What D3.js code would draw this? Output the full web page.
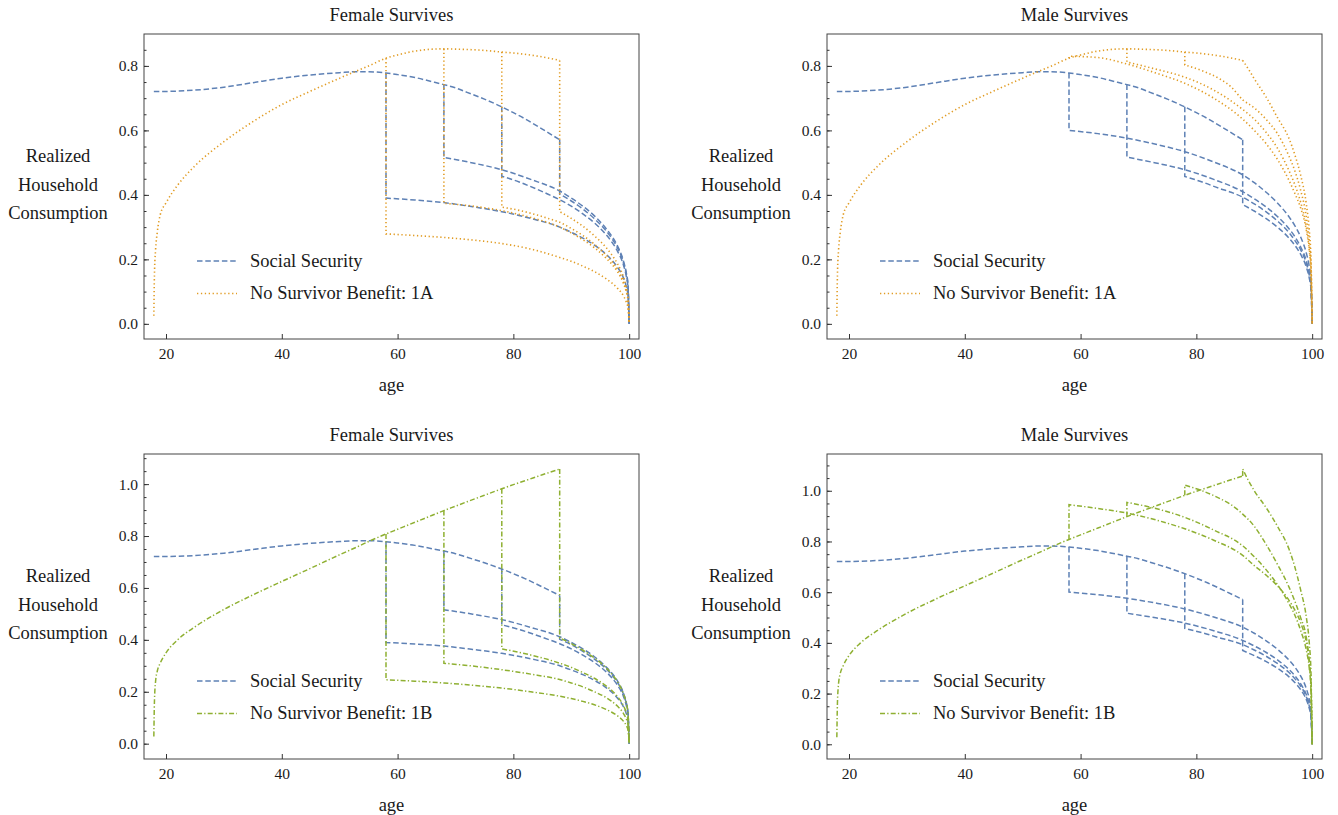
<!DOCTYPE html>
<html>
<head>
<meta charset="utf-8">
<script src="https://cdn.jsdelivr.net/npm/d3@7"></script>
<style>
  body { margin: 0; background: #fff; }
  svg text { font-family: 'Liberation Serif', 'Times New Roman', Times, 'Nimbus Roman', 'DejaVu Serif', serif; fill: #1a1a1a; }
</style>
</head>
<body>
<svg id="chart" width="1338" height="815"></svg>
<script>
// ---------------- DATA ----------------
const deathAges = [58, 68, 78, 88];
const xTickValues = [20, 40, 60, 80, 100];

// Joint (both spouses alive) paths
const jointAges = [17.9, 18, 18.2, 18.5, 19, 20, 22, 25, 30, 35, 40, 45, 50, 53, 55, 58, 60, 63, 66, 68, 70, 72, 75, 78, 80, 82, 85, 88];
const ssJoint = [0.721, 0.721, 0.721, 0.721, 0.721, 0.721, 0.722, 0.725, 0.734, 0.748, 0.762, 0.772, 0.779, 0.782, 0.782, 0.778, 0.773, 0.764, 0.751, 0.742, 0.732, 0.718, 0.697, 0.673, 0.655, 0.636, 0.604, 0.571];
const nsb1AJoint = [0.025, 0.15, 0.23, 0.285, 0.338, 0.375, 0.43, 0.49, 0.565, 0.627, 0.68, 0.722, 0.762, 0.785, 0.8, 0.824, 0.834, 0.846, 0.852, 0.853, 0.852, 0.851, 0.848, 0.843, 0.84, 0.836, 0.828, 0.817];
const nsb1BJoint = [0.028, 0.16, 0.24, 0.28, 0.31, 0.35, 0.40, 0.45, 0.517, 0.573, 0.625, 0.676, 0.728, 0.758, 0.779, 0.808, 0.826, 0.853, 0.880, 0.898, 0.915, 0.932, 0.957, 0.982, 0.998, 1.013, 1.036, 1.058];

// Survivor paths, by age of spouse's death
const ages58 = [58, 63, 68, 73, 78, 83, 88, 90, 92, 94, 96, 97, 98, 99, 99.5, 99.8, 100];
const ages68 = [68, 73, 78, 83, 88, 90, 92, 94, 96, 97, 98, 99, 99.5, 99.8, 100];
const ages78 = [78, 81, 84, 86, 88, 90, 92, 94, 96, 97, 98, 99, 99.5, 99.8, 100];
const ages88 = [88, 89, 90, 92, 94, 96, 97, 98, 99, 99.5, 99.8, 100];

const ssFemale58 = [0.390, 0.384, 0.376, 0.363, 0.348, 0.327, 0.300, 0.284, 0.266, 0.244, 0.216, 0.198, 0.175, 0.143, 0.116, 0.088, 0];
const ssFemale68 = [0.516, 0.499, 0.478, 0.448, 0.412, 0.390, 0.365, 0.335, 0.296, 0.272, 0.241, 0.196, 0.159, 0.121, 0];
const ssFemale78 = [0.458, 0.440, 0.418, 0.402, 0.385, 0.365, 0.341, 0.313, 0.277, 0.254, 0.225, 0.183, 0.148, 0.113, 0];
const ssFemale88 = [0.402, 0.392, 0.381, 0.356, 0.326, 0.289, 0.265, 0.235, 0.191, 0.155, 0.118, 0];

const ssMale58 = [0.600, 0.590, 0.576, 0.557, 0.534, 0.502, 0.462, 0.438, 0.409, 0.375, 0.332, 0.305, 0.270, 0.219, 0.178, 0.135, 0];
const ssMale68 = [0.517, 0.499, 0.478, 0.448, 0.410, 0.388, 0.363, 0.333, 0.295, 0.271, 0.239, 0.195, 0.158, 0.120, 0];
const ssMale78 = [0.457, 0.440, 0.420, 0.408, 0.393, 0.372, 0.348, 0.319, 0.283, 0.259, 0.230, 0.187, 0.151, 0.115, 0];
const ssMale88 = [0.370, 0.360, 0.350, 0.327, 0.300, 0.266, 0.244, 0.216, 0.176, 0.142, 0.108, 0];

const nsb1AFemale58 = [0.279, 0.274, 0.268, 0.260, 0.249, 0.232, 0.206, 0.194, 0.179, 0.162, 0.140, 0.127, 0.110, 0.087, 0.068, 0.049, 0];
const nsb1AFemale68 = [0.374, 0.365, 0.351, 0.330, 0.300, 0.282, 0.261, 0.236, 0.204, 0.185, 0.161, 0.126, 0.099, 0.072, 0];
const nsb1AFemale78 = [0.362, 0.352, 0.338, 0.327, 0.315, 0.296, 0.274, 0.247, 0.214, 0.194, 0.169, 0.132, 0.104, 0.076, 0];
const nsb1AFemale88 = [0.348, 0.338, 0.327, 0.303, 0.273, 0.237, 0.214, 0.186, 0.146, 0.115, 0.084, 0];

const nsb1AMale58 = [0.830, 0.826, 0.806, 0.778, 0.746, 0.700, 0.635, 0.600, 0.560, 0.510, 0.445, 0.405, 0.360, 0.290, 0.228, 0.162, 0];
const nsb1AMale68 = [0.812, 0.790, 0.765, 0.725, 0.665, 0.635, 0.595, 0.545, 0.475, 0.432, 0.378, 0.300, 0.235, 0.165, 0];
const nsb1AMale78 = [0.803, 0.785, 0.760, 0.735, 0.695, 0.670, 0.635, 0.590, 0.520, 0.475, 0.415, 0.330, 0.255, 0.180, 0];
const nsb1AMale88 = [0.817, 0.790, 0.760, 0.705, 0.640, 0.575, 0.525, 0.462, 0.370, 0.290, 0.200, 0];

const nsb1BFemale58 = [0.246, 0.241, 0.234, 0.225, 0.214, 0.200, 0.183, 0.174, 0.163, 0.150, 0.132, 0.121, 0.107, 0.087, 0.070, 0.053, 0];
const nsb1BFemale68 = [0.310, 0.299, 0.285, 0.268, 0.247, 0.234, 0.219, 0.200, 0.178, 0.163, 0.144, 0.117, 0.095, 0.072, 0];
const nsb1BFemale78 = [0.365, 0.352, 0.336, 0.324, 0.310, 0.294, 0.274, 0.252, 0.223, 0.205, 0.181, 0.147, 0.119, 0.091, 0];
const nsb1BFemale88 = [0.407, 0.397, 0.386, 0.360, 0.330, 0.293, 0.269, 0.238, 0.193, 0.157, 0.119, 0];

const nsb1BMale58 = [0.945, 0.930, 0.912, 0.885, 0.850, 0.805, 0.745, 0.705, 0.668, 0.625, 0.568, 0.530, 0.480, 0.400, 0.320, 0.225, 0];
const nsb1BMale68 = [0.954, 0.930, 0.895, 0.845, 0.783, 0.740, 0.690, 0.630, 0.555, 0.510, 0.450, 0.370, 0.300, 0.210, 0];
const nsb1BMale78 = [1.022, 1.000, 0.970, 0.945, 0.908, 0.860, 0.790, 0.710, 0.620, 0.565, 0.500, 0.420, 0.330, 0.230, 0];
const nsb1BMale88 = [1.086, 1.040, 1.000, 0.935, 0.860, 0.770, 0.700, 0.610, 0.500, 0.400, 0.280, 0];

const legendLabels = ['Social Security', 'No Survivor Benefit: 1A', 'No Survivor Benefit: 1B'];
const yLabelLines = ['Realized', 'Household', 'Consumption'];

// ---------------- LAYOUT / STYLE ----------------
const branchAges = [ages58, ages68, ages78, ages88];
const W = 495, H = 305;
const xDomain = [16.2, 101.7];
const FONT = "'Liberation Serif', 'Times New Roman', Times, 'Nimbus Roman', 'DejaVu Serif', serif";
const LABEL_SIZE = 18.5;
const TICK_SIZE = 15.5;

const styleSS = { color: '#5E81B5', dash: '5.5,2.8', width: 1.5 };
const style1A = { color: '#E19C24', dash: '1.3,2.6', width: 1.6 };
const style1B = { color: '#8FB032', dash: '5,2.2,1.3,2.2', width: 1.5 };

const panels = [
  { id: 0, left: 144, top: 34, yDomain: [-0.047, 0.899], title: 'Female Survives',
    ss: [ssFemale58, ssFemale68, ssFemale78, ssFemale88], altJoint: nsb1AJoint,
    alt: [nsb1AFemale58, nsb1AFemale68, nsb1AFemale78, nsb1AFemale88], altStyle: style1A, altLabel: legendLabels[1] },
  { id: 1, left: 827, top: 34, yDomain: [-0.047, 0.899], title: 'Male Survives',
    ss: [ssMale58, ssMale68, ssMale78, ssMale88], altJoint: nsb1AJoint,
    alt: [nsb1AMale58, nsb1AMale68, nsb1AMale78, nsb1AMale88], altStyle: style1A, altLabel: legendLabels[1] },
  { id: 2, left: 144, top: 454, yDomain: [-0.059, 1.116], title: 'Female Survives',
    ss: [ssFemale58, ssFemale68, ssFemale78, ssFemale88], altJoint: nsb1BJoint,
    alt: [nsb1BFemale58, nsb1BFemale68, nsb1BFemale78, nsb1BFemale88], altStyle: style1B, altLabel: legendLabels[2] },
  { id: 3, left: 827, top: 454, yDomain: [-0.058, 1.145], title: 'Male Survives',
    ss: [ssMale58, ssMale68, ssMale78, ssMale88], altJoint: nsb1BJoint,
    alt: [nsb1BMale58, nsb1BMale68, nsb1BMale78, nsb1BMale88], altStyle: style1B, altLabel: legendLabels[2] }
];

const svg = d3.select('#chart');

function applyStyle(sel, st) {
  sel.attr('fill', 'none').attr('stroke', st.color).attr('stroke-width', st.width)
     .attr('stroke-dasharray', st.dash);
}

function drawPanel(p) {
  const g = svg.append('g').attr('transform', `translate(${p.left},${p.top})`);
  const x = d3.scaleLinear().domain(xDomain).range([0, W]);
  const y = d3.scaleLinear().domain(p.yDomain).range([H, 0]);

  const clipId = 'clip' + p.id;
  g.append('clipPath').attr('id', clipId).append('rect').attr('width', W).attr('height', H);
  const plot = g.append('g').attr('clip-path', `url(#${clipId})`);

  const line = d3.line().x(d => x(d[0])).y(d => y(d[1])).curve(d3.curveMonotoneX);

  function series(joint, branches, st) {
    const jd = jointAges.map((a, i) => [a, joint[i]]);
    plot.append('path').attr('d', line(jd)).call(applyStyle, st);
    branches.forEach((vals, i) => {
      const death = deathAges[i];
      const jv = joint[jointAges.indexOf(death)];
      const pts = branchAges[i].map((a, k) => [a, vals[k]]);
      const curve = line(pts);
      const d = `M${x(death)},${y(jv)}L` + curve.slice(1);
      plot.append('path').attr('d', d).call(applyStyle, st);
    });
  }
  series(ssJoint, p.ss, styleSS);
  series(p.altJoint, p.alt, p.altStyle);

  // frame
  g.append('rect').attr('width', W).attr('height', H).attr('fill', 'none')
    .attr('stroke', '#444').attr('stroke-width', 1);

  // y axis
  const yMax = p.yDomain[1];
  const majors = d3.range(0, yMax + 1e-9, 0.2).map(v => Math.round(v * 100) / 100);
  const minors = d3.range(0, yMax, 0.05).map(v => Math.round(v * 100) / 100).filter(v => v <= yMax);
  const ya = g.append('g').attr('color', '#333')
    .call(d3.axisLeft(y).tickValues(majors).tickSize(-5).tickPadding(6).tickFormat(d3.format('.1f')));
  ya.attr('font-family', FONT);
  ya.select('.domain').remove();
  ya.selectAll('text').attr('font-size', TICK_SIZE).style('font-family', FONT);
  const ym = g.append('g').attr('color', '#333')
    .call(d3.axisLeft(y).tickValues(minors).tickSize(-2.5).tickFormat(''));
  ym.select('.domain').remove();

  // x axis
  const xa = g.append('g').attr('transform', `translate(0,${H})`).attr('color', '#333')
    .call(d3.axisBottom(x).tickValues(xTickValues).tickSize(-5).tickPadding(9).tickFormat(d3.format('d')));
  xa.attr('font-family', FONT);
  xa.select('.domain').remove();
  xa.selectAll('text').attr('font-size', TICK_SIZE).style('font-family', FONT);

  // labels
  g.append('text').attr('x', W / 2).attr('y', -13).attr('text-anchor', 'middle')
    .attr('font-size', LABEL_SIZE).style('font-family', FONT).text(p.title);
  g.append('text').attr('x', W / 2).attr('y', H + 52).attr('text-anchor', 'middle')
    .attr('font-size', LABEL_SIZE).style('font-family', FONT).text('age');
  yLabelLines.forEach((t, i) => {
    g.append('text').attr('x', -86).attr('y', 128 + i * 28.5).attr('text-anchor', 'middle')
      .attr('font-size', LABEL_SIZE).style('font-family', FONT).text(t);
  });

  // legend
  const legendItems = [{ label: legendLabels[0], st: styleSS }, { label: p.altLabel, st: p.altStyle }];
  legendItems.forEach((it, i) => {
    const ly = 227 + i * 32.5;
    g.append('line').attr('x1', 53).attr('x2', 93).attr('y1', ly).attr('y2', ly).call(applyStyle, it.st);
    g.append('text').attr('x', 106).attr('y', ly + 5.5).attr('font-size', LABEL_SIZE)
      .style('font-family', FONT).text(it.label);
  });
}

panels.forEach(drawPanel);
</script>
</body>
</html>
